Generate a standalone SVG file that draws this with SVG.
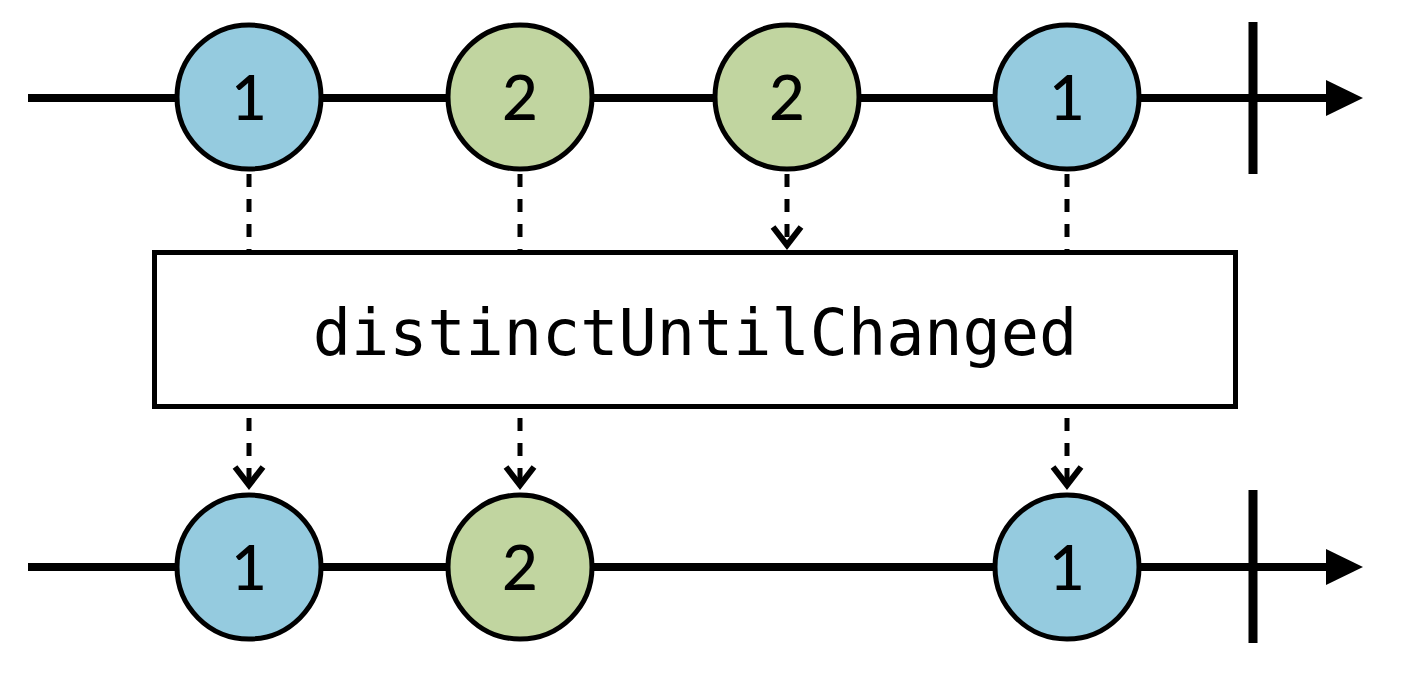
<svg xmlns="http://www.w3.org/2000/svg" width="1403" height="683" viewBox="0 0 1403 683">
<style>
.tl{stroke:#000;stroke-width:8;fill:none}
.tick{stroke:#000;stroke-width:9}
.dash{stroke:#000;stroke-width:5;stroke-dasharray:13 12;fill:none}
.chev{stroke:#000;stroke-width:6;fill:none;stroke-linecap:butt;stroke-linejoin:miter}
.blue{fill:#95CBDF;stroke:#000;stroke-width:5}
.green{fill:#C1D5A0;stroke:#000;stroke-width:5}
.num{font-family:"Lato","Liberation Sans",Arial,sans-serif;font-size:62px;font-weight:500;text-anchor:middle;fill:#000}
.op{font-family:"DejaVu Sans Mono","Liberation Mono",monospace;font-size:63.5px;text-anchor:middle;fill:#000}
</style>
<rect width="1403" height="683" fill="#fff"/>
<g id="timelines">
  <line class="tl" x1="28" y1="98" x2="1330" y2="98"/>
  <polygon points="1326,80 1363,98 1326,116" fill="#000"/>
  <line class="tick" x1="1253" y1="22" x2="1253" y2="174"/>
  <line class="tl" x1="28" y1="567" x2="1330" y2="567"/>
  <polygon points="1326,549 1363,567 1326,585" fill="#000"/>
  <line class="tick" x1="1253" y1="490" x2="1253" y2="643"/>
</g>
<g id="connectors">
  <line class="dash" x1="249" y1="174" x2="249" y2="251"/>
  <line class="dash" x1="520" y1="174" x2="520" y2="251"/>
  <line class="dash" x1="787" y1="174" x2="787" y2="245"/>
  <polyline class="chev" points="773,227 787,245 801,227"/>
  <line class="dash" x1="1067" y1="174" x2="1067" y2="251"/>
  <line class="dash" x1="249" y1="418" x2="249" y2="486"/>
  <polyline class="chev" points="235,467 249,485 263,467"/>
  <line class="dash" x1="520" y1="418" x2="520" y2="486"/>
  <polyline class="chev" points="506,467 520,485 534,467"/>
  <line class="dash" x1="1067" y1="418" x2="1067" y2="486"/>
  <polyline class="chev" points="1053,467 1067,485 1081,467"/>
</g>
<g id="operator">
  <rect x="154.5" y="252.5" width="1081" height="154" fill="#fff" stroke="#000" stroke-width="5"/>
  <text class="op" x="695" y="355">distinctUntilChanged</text>
</g>
<g id="in1"><circle class="blue" cx="249" cy="97" r="72"/><text class="num" x="249" y="120">1</text></g>
<g id="in2"><circle class="green" cx="520" cy="97" r="72"/><text class="num" x="520" y="120">2</text></g>
<g id="in3"><circle class="green" cx="787" cy="97" r="72"/><text class="num" x="787" y="120">2</text></g>
<g id="in4"><circle class="blue" cx="1067" cy="97" r="72"/><text class="num" x="1067" y="120">1</text></g>
<g id="out1"><circle class="blue" cx="249" cy="567" r="72"/><text class="num" x="249" y="590">1</text></g>
<g id="out2"><circle class="green" cx="520" cy="567" r="72"/><text class="num" x="520" y="590">2</text></g>
<g id="out3"><circle class="blue" cx="1067" cy="567" r="72"/><text class="num" x="1067" y="590">1</text></g>
</svg>
